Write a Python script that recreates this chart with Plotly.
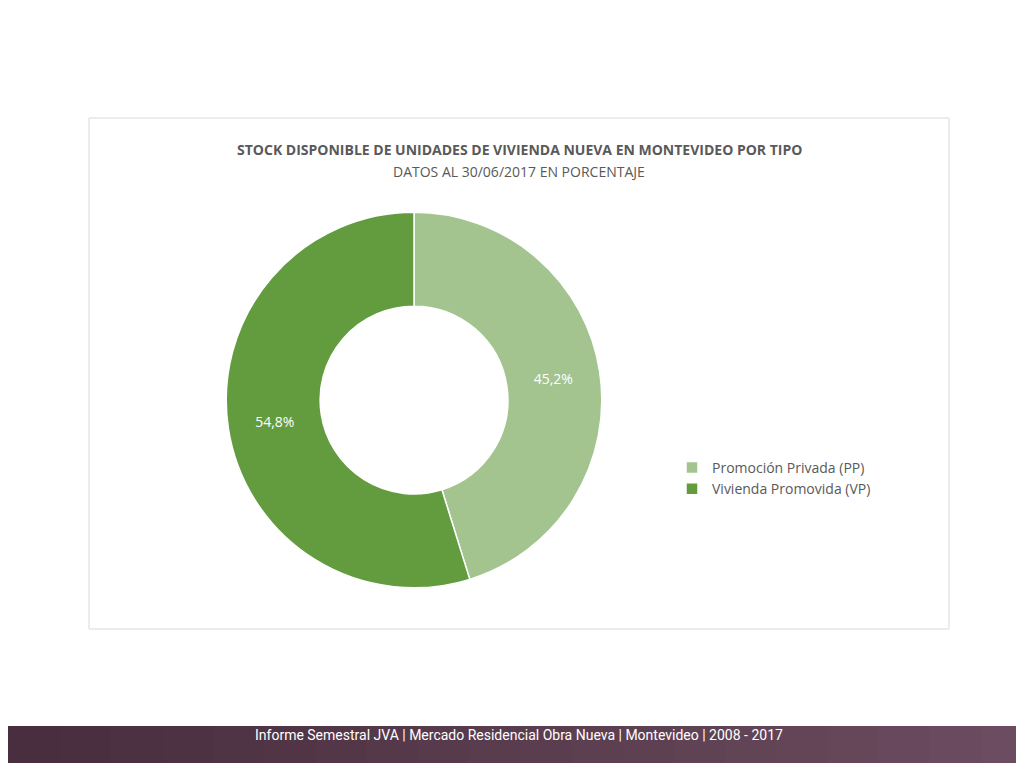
import plotly.graph_objects as go

labels = ["Promoción Privada (PP)", "Vivienda Promovida (VP)"]
values = [45.2, 54.8]
text_labels = ["45,2%", "54,8%"]
colors = ["#a3c48f", "#629c3e"]

fig = go.Figure()
fig.add_trace(go.Pie(
    labels=labels, values=values, text=text_labels, textinfo="text",
    hole=0.5, sort=False, direction="clockwise", rotation=0,
    marker=dict(colors=colors, line=dict(color="white", width=1.5)),
    textfont=dict(color="white", size=14, family="Open Sans"),
    insidetextfont=dict(color="white", size=14, family="Open Sans"),
    textposition="inside", insidetextorientation="horizontal",
    domain=dict(x=[0.213, 0.580], y=[0.245, 0.734]),
    hoverinfo="label+percent",
))

shapes = [dict(type="rect", xref="paper", yref="paper", x0=81/1024, x1=941/1024,
               y0=1-621/768, y1=1-110/768, line=dict(color="#d9d9d9", width=1),
               fillcolor="rgba(0,0,0,0)", layer="below")]
# footer band with a soft left-to-right gradient
n = 20
for i in range(n):
    t = i / (n - 1)
    r = int(0x48 + (0x6c - 0x48) * t)
    g = int(0x2e + (0x4c - 0x2e) * t)
    b = int(0x3e + (0x60 - 0x3e) * t)
    shapes.append(dict(type="rect", xref="paper", yref="paper", x0=i / n, x1=(i + 1) / n + 0.001,
                       y0=1-755/768, y1=1-718/768, line=dict(width=0),
                       fillcolor=f"rgb({r},{g},{b})", layer="below"))

fig.update_layout(
    width=1024, height=768, margin=dict(l=0, r=0, t=0, b=0),
    paper_bgcolor="white", plot_bgcolor="white",
    font=dict(family="Open Sans", color="#595959"),
    shapes=shapes,
    showlegend=True,
    legend=dict(x=664/1024, y=1-444/768, xanchor="left", yanchor="top",
                font=dict(size=14, color="#595959"), tracegroupgap=0,
                itemwidth=30, bgcolor="rgba(0,0,0,0)"),
    annotations=[
        dict(text="<b>STOCK DISPONIBLE DE UNIDADES DE VIVIENDA NUEVA EN MONTEVIDEO POR TIPO</b>",
             x=511/1024, y=1-130/768, xref="paper", yref="paper", showarrow=False,
             font=dict(size=14, color="#595959")),
        dict(text="DATOS AL 30/06/2017 EN PORCENTAJE",
             x=511/1024, y=1-152/768, xref="paper", yref="paper", showarrow=False,
             font=dict(size=14, color="#595959")),
        dict(text="Informe Semestral JVA | Mercado Residencial Obra Nueva | Montevideo | 2008 - 2017",
             x=511/1024, y=1-737/768, xref="paper", yref="paper", showarrow=False,
             font=dict(size=14, color="white", family="Liberation Sans Narrow, Roboto")),
    ],
)

fig.write_html("out.html")
